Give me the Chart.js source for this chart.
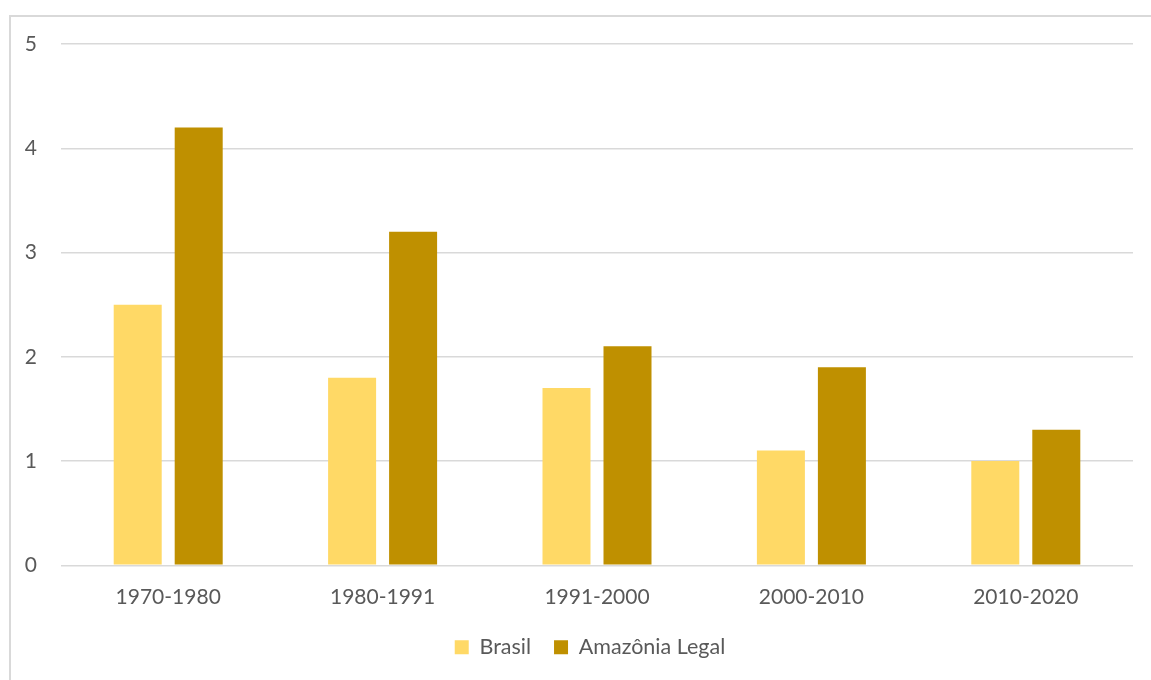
<!DOCTYPE html>
<html>
<head>
<meta charset="utf-8">
<script src="https://cdn.jsdelivr.net/npm/chart.js@4"></script>
<style>
  html, body { margin: 0; padding: 0; background: #fff; overflow: hidden; }
  #frame { position: absolute; left: 9px; top: 15px; width: 1200px; height: 720px; border: 2px solid #d9d9d9; box-sizing: border-box; }
  #wrap { position: absolute; left: 0; top: 0; width: 1151px; height: 680px; }
</style>
</head>
<body>
<div id="frame"></div>
<div id="wrap"><canvas id="c"></canvas></div>
<script>
const categories = ["1970-1980", "1980-1991", "1991-2000", "2000-2010", "2010-2020"];
const brasil = [2.5, 1.8, 1.7, 1.1, 1.0];
const amazonia = [4.2, 3.2, 2.1, 1.9, 1.3];
const seriesNames = ["Brasil", "Amazônia Legal"];
const yTicks = [0, 1, 2, 3, 4, 5];

const FONT = "Lato, 'Open Sans', sans-serif";

const legendShift = {
  id: 'legendShift',
  afterLayout(chart) {
    const lg = chart.legend;
    if (!lg) return;
    lg.left += 18; lg.right += 18;
    lg.top -= 12; lg.bottom -= 12;
  }
};

new Chart(document.getElementById('c'), {
  type: 'bar',
  data: {
    labels: categories,
    datasets: [
      { label: seriesNames[0], data: brasil, backgroundColor: '#FFD966', borderWidth: 0, barPercentage: 0.787, categoryPercentage: 0.569 },
      { label: seriesNames[1], data: amazonia, backgroundColor: '#BF9000', borderWidth: 0, barPercentage: 0.787, categoryPercentage: 0.569 }
    ]
  },
  plugins: [legendShift],
  options: {
    responsive: true,
    maintainAspectRatio: false,
    animation: false,
    layout: { padding: { left: 11, right: 18, top: 44, bottom: 0 } },
    plugins: {
      tooltip: { enabled: false },
      legend: {
        position: 'bottom',
        labels: {
          boxWidth: 14, boxHeight: 14, padding: 23,
          color: '#595959',
          font: { family: FONT, size: 21.5 }
        }
      }
    },
    scales: {
      x: {
        afterFit: (s) => { s.height = s.height - 3; },
        grid: { display: false, drawTicks: false },
        border: { display: false },
        ticks: { color: '#595959', font: { family: FONT, size: 21 }, padding: 19 }
      },
      y: {
        min: 0, max: 5,
        afterBuildTicks: (s) => { s.ticks = yTicks.map(v => ({ value: v })); },
        afterFit: (s) => { s.width = 50; },
        grid: { color: '#d9d9d9', lineWidth: 1.5, drawTicks: false },
        border: { display: false },
        ticks: { color: '#595959', font: { family: FONT, size: 21 }, padding: 24 }
      }
    }
  }
});
</script>
</body>
</html>
